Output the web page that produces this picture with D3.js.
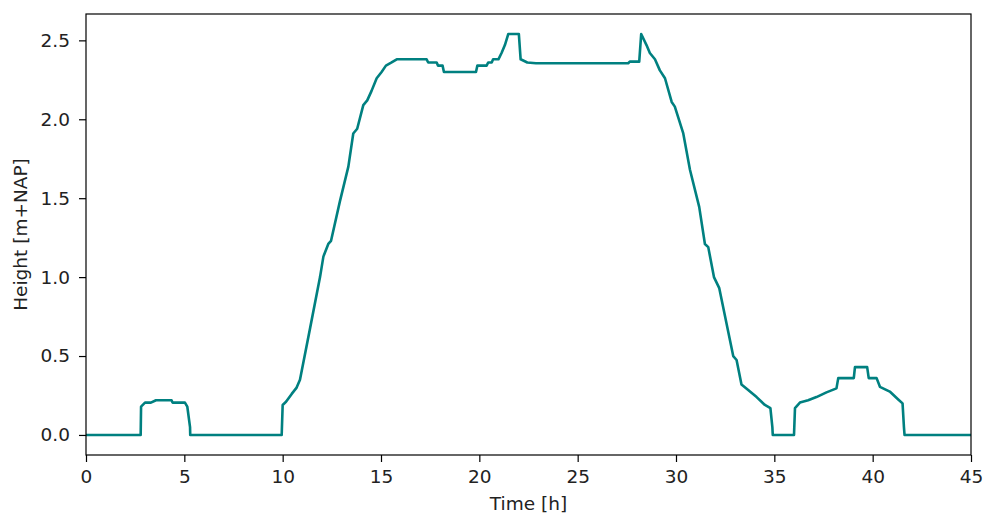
<!DOCTYPE html>
<html><head><meta charset="utf-8">
<script src="https://cdn.jsdelivr.net/npm/d3@7"></script>
<style>
body{margin:0;background:#fff;}
svg{display:block;font-family:"DejaVu Sans",sans-serif;}
</style></head><body>
<svg id="c" width="983" height="515"></svg>
<script>
// time [h] and water height [m+NAP]
const time = [0, 2.78, 2.8, 3.0, 3.3, 3.56, 4.35, 4.4, 5.03, 5.15, 5.29, 5.3,
  9.86, 9.95, 10.0, 10.17, 10.46, 10.71, 10.88, 11.4, 11.9, 12.07, 12.32, 12.46, 12.91, 13.34, 13.59, 13.79,
  14.1, 14.3, 14.52, 14.78, 15.03, 15.25, 15.54, 15.8, 17.32, 17.4, 17.83, 17.9, 18.13, 18.2,
  19.83, 19.9, 20.37, 20.45, 20.63, 20.7, 20.97, 21.13, 21.3, 21.47, 22.01, 22.1, 22.44, 22.88,
  27.57, 27.65, 28.13, 28.23, 28.5, 28.67, 28.93, 29.18, 29.44, 29.78, 29.94, 30.37, 30.71, 31.18,
  31.47, 31.64, 31.93, 32.2, 32.91, 33.08, 33.33, 33.67, 34.1, 34.52, 34.8, 34.9, 34.92,
  36.0, 36.05, 36.3, 36.72, 37.14, 37.65, 38.16, 38.25, 38.5, 39.04, 39.1, 39.72, 39.8, 40.2, 40.37,
  40.87, 41.3, 41.52, 41.59, 41.62, 45];
const height = [0, 0, 0.18, 0.205, 0.205, 0.22, 0.22, 0.205, 0.205, 0.18, 0.05, 0,
  0, 0, 0.19, 0.21, 0.26, 0.30, 0.35, 0.68, 1.0, 1.13, 1.21, 1.23, 1.48, 1.70, 1.91, 1.94,
  2.09, 2.12, 2.18, 2.26, 2.30, 2.34, 2.36, 2.38, 2.38, 2.36, 2.36, 2.34, 2.34, 2.30,
  2.30, 2.34, 2.34, 2.36, 2.36, 2.38, 2.38, 2.42, 2.47, 2.54, 2.54, 2.38, 2.36, 2.355,
  2.355, 2.365, 2.365, 2.54, 2.47, 2.42, 2.38, 2.31, 2.26, 2.11, 2.08, 1.91, 1.68, 1.445,
  1.21, 1.19, 1.0, 0.93, 0.50, 0.475, 0.32, 0.285, 0.24, 0.19, 0.17, 0.05, 0,
  0, 0.17, 0.205, 0.22, 0.24, 0.27, 0.295, 0.36, 0.36, 0.36, 0.43, 0.43, 0.36, 0.36, 0.305,
  0.275, 0.225, 0.2, 0.05, 0, 0];
const xTicks = [0, 5, 10, 15, 20, 25, 30, 35, 40, 45];
const yTicks = [0.0, 0.5, 1.0, 1.5, 2.0, 2.5];

const svg = d3.select("#c");
const L = 86, R = 971, T = 14, B = 455;
const FS = "18.5px";
const x = d3.scaleLinear().domain([0, 45]).range([L, R]);
const y = d3.scaleLinear().domain([-0.127, 2.667]).range([B, T]);

const data = time.map((t, i) => [t, height[i]]);
svg.append("path")
  .datum(data)
  .attr("fill", "none")
  .attr("stroke", "#008080")
  .attr("stroke-width", 2.6)
  .attr("stroke-linejoin", "round")
  .attr("d", d3.line().x(d => x(d[0])).y(d => y(d[1])));

// axes
const xa = svg.append("g").attr("transform", `translate(0,${B})`)
  .call(d3.axisBottom(x).tickValues(xTicks).tickFormat(d3.format("d")).tickSize(7).tickPadding(8));
const ya = svg.append("g").attr("transform", `translate(${L},0)`)
  .call(d3.axisLeft(y).tickValues(yTicks).tickFormat(d3.format(".1f")).tickSize(7).tickPadding(9));
[xa, ya].forEach(g => {
  g.select(".domain").remove();
  g.selectAll("line").attr("stroke", "#000").attr("stroke-width", 1.2);
  g.selectAll("text").attr("fill", "#222").style("font-size", FS).style("font-family", "DejaVu Sans");
});

// frame
svg.append("rect").attr("x", L).attr("y", T).attr("width", R - L).attr("height", B - T)
  .attr("fill", "none").attr("stroke", "#000").attr("stroke-width", 1.2);

svg.append("text").attr("x", (L + R) / 2).attr("y", 510).attr("text-anchor", "middle")
  .attr("fill", "#222").style("font-size", FS).text("Time [h]");
svg.append("text").attr("transform", `translate(27,${(T + B) / 2}) rotate(-90)`)
  .attr("text-anchor", "middle").attr("fill", "#222").style("font-size", FS).text("Height [m+NAP]");
</script>
</body></html>
